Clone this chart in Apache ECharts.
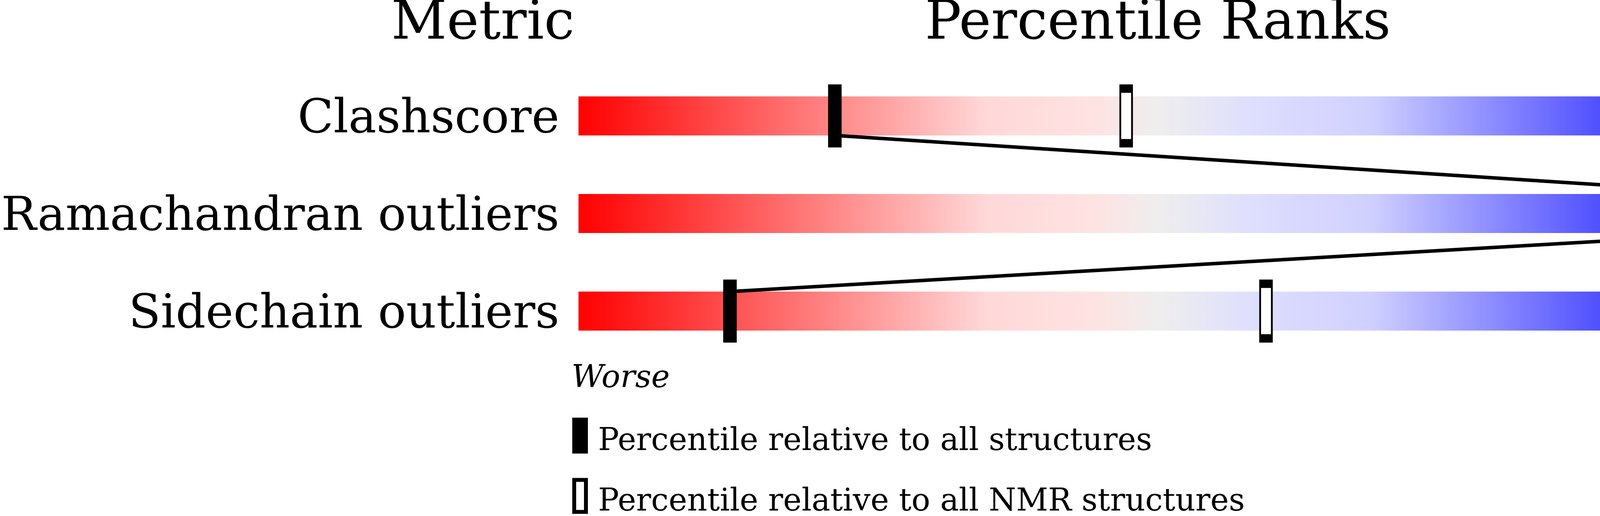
<!DOCTYPE html>
<html>
<head>
<meta charset="utf-8">
<script src="https://cdn.jsdelivr.net/npm/echarts@6/dist/echarts.min.js"></script>
<style>
  html, body { margin: 0; padding: 0; background: #fff; }
  #chart { width: 4860px; height: 1322px; }
</style>
</head>
<body>
<div id="chart"></div>
<script>
  // validation slider data
  var metrics = ['Clashscore', 'Ramachandran outliers', 'Sidechain outliers'];
  var values = ['13', '0', '9.1%'];
  var pctAll = [22, 100, 13];       // percentile vs all structures
  var pctNmr = [47, null, 59];      // percentile vs NMR structures
  var headers = ['Metric', 'Percentile Ranks', 'Value'];
  var ends = ['Worse', 'Better'];
  var legendNames = ['Percentile relative to all structures', 'Percentile relative to all NMR structures'];

  var serif = 'DejaVu Serif';
  var chart = echarts.init(document.getElementById('chart'));

  var sliderColor = new echarts.graphic.LinearGradient(0, 0, 1, 0, [
    { offset: 0, color: '#ff0000' },
    { offset: 0.35, color: '#ffd8d8' },
    { offset: 0.44, color: '#ffe2e2' },
    { offset: 0.5, color: '#eeeeee' },
    { offset: 0.58, color: '#dedeff' },
    { offset: 0.68, color: '#d0d0ff' },
    { offset: 1, color: '#0000ff' }
  ]);

  var links = [];
  for (var i = 0; i < pctAll.length - 1; i++) {
    links.push([pctAll[i], i, pctAll[i + 1], i + 1]);
  }

  // labels sit a little below the bar centre, like the original
  var rowLabel = { fontFamily: serif, fontSize: 120, color: '#000', verticalAlign: 'top', lineHeight: 22 };

  var option = {
    animation: false,
    backgroundColor: '#fff',
    grid: { left: 1464, right: 396, top: 172, height: 750 },
    xAxis: { type: 'value', min: 0, max: 100, show: false },
    yAxis: [{
      type: 'category', data: metrics, inverse: true,
      axisLine: { show: false }, axisTick: { show: false }, splitLine: { show: false },
      axisLabel: Object.assign({ margin: 49 }, rowLabel)
    }, {
      type: 'category', data: values, inverse: true, position: 'right',
      axisLine: { show: false }, axisTick: { show: false }, splitLine: { show: false },
      axisLabel: Object.assign({ margin: 61 }, rowLabel)
    }],
    legend: {
      orient: 'vertical', left: 1465, top: 1070, height: 500, padding: 0,
      itemWidth: 30, itemHeight: 82, itemGap: 52,
      icon: 'rect',
      itemStyle: { borderWidth: 10 },
      formatter: function (name) { return '{t|' + name + '}'; },
      textStyle: {
        rich: { t: { fontFamily: serif, fontSize: 80, color: '#000', padding: [33, 0, 0, 26] } }
      },
      data: legendNames
    },
    graphic: [
      { type: 'text', x: 1236, y: 63, style: { text: headers[0], font: '139px "DejaVu Serif"', fill: '#000', align: 'center', verticalAlign: 'middle' } },
      { type: 'text', x: 2964, y: 63, style: { text: headers[1], font: '139px "DejaVu Serif"', fill: '#000', align: 'center', verticalAlign: 'middle' } },
      { type: 'text', x: 4463, y: 63, style: { text: headers[2], font: '139px "DejaVu Serif"', fill: '#000', align: 'left', verticalAlign: 'middle' } },
      { type: 'text', x: 1463, y: 971, style: { text: ends[0], font: 'italic 80px "DejaVu Serif"', fill: '#000', align: 'left', verticalAlign: 'middle' } },
      { type: 'text', x: 4464, y: 971, style: { text: ends[1], font: 'italic 80px "DejaVu Serif"', fill: '#000', align: 'right', verticalAlign: 'middle' } }
    ],
    series: [{
      type: 'bar', silent: true, z: 2,
      data: metrics.map(function () { return 100; }),
      barWidth: 100,
      itemStyle: { color: sliderColor }
    }, {
      type: 'custom', silent: true, z: 3,
      dimensions: ['x1', 'y1', 'x2', 'y2'],
      encode: { x: [0, 2], y: [1, 3] },
      data: links,
      renderItem: function (params, api) {
        var a = api.coord([api.value(0), api.value(1)]);
        var b = api.coord([api.value(2), api.value(3)]);
        var half = api.size([0, 1])[1] * 0.2;
        return {
          type: 'line',
          shape: { x1: a[0], y1: a[1] + half, x2: b[0], y2: b[1] - half },
          style: { stroke: '#000', lineWidth: 9 }
        };
      }
    }, {
      name: legendNames[0], type: 'scatter', z: 4, silent: true,
      symbol: 'rect', symbolSize: [30, 140],
      itemStyle: { color: '#000', borderColor: '#000', borderWidth: 10, opacity: 1 },
      data: pctAll.map(function (v, i) { return [v, i]; })
    }, {
      name: legendNames[1], type: 'scatter', z: 4, silent: true,
      symbol: 'rect', symbolSize: [30, 140],
      itemStyle: { color: '#fff', borderColor: '#000', borderWidth: 10, opacity: 1 },
      data: pctNmr.map(function (v, i) { return v == null ? null : [v, i]; }).filter(function (d) { return d; })
    }]
  };

  chart.setOption(option);
</script>
</body>
</html>
